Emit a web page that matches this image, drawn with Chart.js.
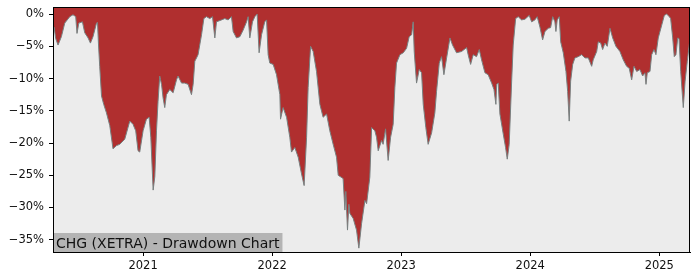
<!DOCTYPE html>
<html>
<head>
<meta charset="utf-8">
<script src="https://cdn.jsdelivr.net/npm/chart.js@4.4.1/dist/chart.umd.min.js"></script>
<style>
  body { margin: 0; background: #fff; }
  #wrap { width: 700px; height: 280px; }
</style>
</head>
<body>
<div id="wrap"><canvas id="ddChart" width="700" height="280"></canvas></div>
<script>
// dates as fractional years
const dateYears = [
  2020.302, 2020.310, 2020.323, 2020.341, 2020.367, 2020.393, 2020.432, 2020.457, 2020.478, 2020.488,
  2020.502, 2020.530, 2020.548, 2020.574, 2020.592, 2020.612, 2020.639, 2020.647, 2020.654, 2020.664,
  2020.678, 2020.695, 2020.716, 2020.742, 2020.767, 2020.794, 2020.819, 2020.858, 2020.897, 2020.922,
  2020.943, 2020.961, 2020.974, 2021.000, 2021.026, 2021.047, 2021.060, 2021.078, 2021.091, 2021.104,
  2021.116, 2021.129, 2021.143, 2021.155, 2021.168, 2021.181, 2021.207, 2021.233, 2021.259, 2021.271,
  2021.298, 2021.323, 2021.349, 2021.375, 2021.388, 2021.401, 2021.414, 2021.426, 2021.453, 2021.471,
  2021.491, 2021.517, 2021.538, 2021.556, 2021.569, 2021.608, 2021.633, 2021.659, 2021.685, 2021.698,
  2021.724, 2021.750, 2021.775, 2021.802, 2021.814, 2021.827, 2021.848, 2021.866, 2021.884, 2021.899,
  2021.918, 2021.943, 2021.957, 2021.969, 2021.982, 2022.008, 2022.034, 2022.060, 2022.065, 2022.085,
  2022.112, 2022.137, 2022.150, 2022.176, 2022.202, 2022.228, 2022.248, 2022.267, 2022.279, 2022.298,
  2022.318, 2022.344, 2022.370, 2022.395, 2022.422, 2022.447, 2022.473, 2022.499, 2022.512, 2022.550,
  2022.564, 2022.571, 2022.584, 2022.595, 2022.602, 2022.628, 2022.654, 2022.672, 2022.693, 2022.719,
  2022.732, 2022.757, 2022.771, 2022.796, 2022.809, 2022.822, 2022.848, 2022.860, 2022.879, 2022.899,
  2022.918, 2022.938, 2022.951, 2022.964, 2022.990, 2023.016, 2023.042, 2023.062, 2023.081, 2023.093,
  2023.101, 2023.119, 2023.140, 2023.158, 2023.171, 2023.191, 2023.209, 2023.236, 2023.261, 2023.274,
  2023.295, 2023.313, 2023.331, 2023.352, 2023.378, 2023.398, 2023.429, 2023.468, 2023.507, 2023.519,
  2023.538, 2023.558, 2023.584, 2023.605, 2023.623, 2023.649, 2023.674, 2023.701, 2023.719, 2023.734,
  2023.740, 2023.752, 2023.765, 2023.791, 2023.809, 2023.822, 2023.837, 2023.856, 2023.868, 2023.887,
  2023.907, 2023.933, 2023.959, 2023.992, 2024.011, 2024.036, 2024.054, 2024.075, 2024.096, 2024.114,
  2024.140, 2024.158, 2024.174, 2024.191, 2024.199, 2024.209, 2024.225, 2024.236, 2024.256, 2024.277,
  2024.290, 2024.302, 2024.313, 2024.329, 2024.346, 2024.372, 2024.398, 2024.424, 2024.450, 2024.476,
  2024.488, 2024.515, 2024.527, 2024.546, 2024.561, 2024.579, 2024.597, 2024.618, 2024.639, 2024.664,
  2024.695, 2024.721, 2024.747, 2024.767, 2024.786, 2024.804, 2024.825, 2024.850, 2024.871, 2024.889,
  2024.897, 2024.907, 2024.928, 2024.941, 2024.959, 2024.974, 2024.992, 2025.019, 2025.039, 2025.057,
  2025.078, 2025.088, 2025.104, 2025.116, 2025.129, 2025.143, 2025.153, 2025.166, 2025.186, 2025.200,
  2025.217, 2025.234, 2025.238
];

// drawdown in percent
const drawdown = [
  -1.9, -2.0, -3.8, -4.8, -3.5, -1.4, -0.4, -0.1, -0.4, -3.0,
  -1.4, -1.2, -2.9, -3.7, -4.5, -3.5, -1.4, -1.3, -4.5, -8.1,
  -12.7, -14.0, -15.3, -17.3, -20.9, -20.4, -20.2, -19.4, -16.6, -17.1,
  -18.1, -21.2, -21.4, -18.1, -16.3, -16.0, -19.1, -27.3, -25.2, -18.1,
  -13.5, -9.6, -10.9, -13.0, -14.5, -12.5, -11.7, -12.2, -10.2, -9.6,
  -10.7, -10.7, -10.9, -12.5, -10.9, -7.3, -6.8, -6.3, -3.2, -0.7,
  -0.4, -0.7, -0.4, -3.7, -1.2, -0.9, -0.7, -0.9, -0.4, -2.7,
  -3.7, -3.5, -2.5, -1.2, -0.4, -3.7, -1.2, -0.4, 0, -6.0,
  -3.2, -1.2, -0.9, -6.3, -7.6, -7.8, -9.4, -12.5, -16.3, -14.5,
  -16.0, -19.1, -21.4, -20.7, -22.2, -24.8, -26.6, -19.1, -11.4, -5.0,
  -5.8, -8.9, -14.0, -16.0, -15.5, -18.1, -20.2, -22.2, -25.0, -25.5,
  -30.4, -27.5, -33.5, -29.5, -30.9, -31.7, -33.5, -36.3, -32.5, -28.9,
  -29.4, -25.3, -17.6, -18.1, -19.1, -21.2, -19.6, -20.2, -17.8, -22.7,
  -19.1, -17.1, -11.4, -7.6, -6.3, -6.0, -5.3, -3.5, -3.2, -1.2,
  -5.8, -10.7, -8.6, -9.1, -14.0, -17.6, -20.2, -18.4, -15.3, -12.0,
  -7.6, -6.6, -9.4, -6.8, -3.7, -4.8, -6.0, -5.8, -5.2, -6.3,
  -7.8, -6.3, -6.6, -5.5, -7.1, -9.1, -9.4, -10.7, -11.7, -14.0,
  -10.9, -10.7, -15.5, -18.6, -20.7, -22.5, -20.2, -10.4, -4.8, -0.7,
  -0.4, -0.9, -0.8, -0.2, -1.2, -0.9, -0.4, -2.0, -4.0, -2.7,
  -2.2, -2.1, -0.4, -1.2, -2.7, -0.9, -0.4, -4.3, -6.0, -8.9,
  -12.0, -16.6, -10.4, -7.8, -6.8, -6.6, -6.3, -6.8, -6.8, -8.1,
  -7.1, -5.8, -4.3, -4.5, -5.5, -4.5, -5.0, -2.2, -3.7, -5.0,
  -5.8, -7.1, -8.1, -8.4, -10.2, -8.1, -8.9, -8.6, -9.6, -9.1,
  -10.9, -9.1, -8.9, -6.3, -5.5, -6.3, -3.7, -1.7, -0.2, 0,
  -0.4, -0.7, -3.7, -6.6, -6.3, -3.7, -3.8, -8.9, -14.5, -10.4,
  -7.3, -4.5, -4.0
];

const yearTicks = [2021, 2022, 2023, 2024, 2025];
const pctTicks = [0, -5, -10, -15, -20, -25, -30, -35];
const chartTitle = 'CHG (XETRA) - Drawdown Chart';

const points = dateYears.map((t, i) => ({ x: t, y: drawdown[i] }));

// fondo gris del area y marco negro
const frame = {
  id: 'frame',
  beforeDraw(chart) {
    const a = chart.chartArea, c = chart.ctx;
    c.save();
    c.fillStyle = '#ececec';
    c.fillRect(a.left, a.top, a.right - a.left, a.bottom - a.top);
    c.restore();
  },
  afterDraw(chart) {
    const a = chart.chartArea, c = chart.ctx;
    c.save();
    // label box at bottom left
    c.font = '14px "DejaVu Sans"';
    const w = c.measureText(chartTitle).width;
    c.fillStyle = '#b4b4b4';
    c.fillRect(a.left, a.bottom - 19, w + 6, 19);
    c.fillStyle = '#111';
    c.textBaseline = 'alphabetic';
    c.fillText(chartTitle, a.left + 3, a.bottom - 4);
    c.strokeStyle = '#000';
    c.lineWidth = 1;
    c.strokeRect(a.left + 0.5, a.top + 0.5, a.right - a.left - 1, a.bottom - a.top);
    c.restore();
  }
};

new Chart(document.getElementById('ddChart').getContext('2d'), {
  type: 'line',
  data: {
    datasets: [{
      data: points,
      borderColor: 'rgba(120,128,128,1)',
      borderWidth: 1,
      backgroundColor: '#b02f2f',
      fill: 'end',
      pointRadius: 0,
      tension: 0
    }]
  },
  options: {
    responsive: false,
    animation: false,
    layout: { padding: { top: 7, right: 10, left: 0, bottom: 0 } },
    plugins: { legend: { display: false }, tooltip: { enabled: false } },
    scales: {
      x: {
        type: 'linear',
        min: 2020.302,
        max: 2025.238,
        afterBuildTicks: s => { s.ticks = yearTicks.map(v => ({ value: v })); },
        afterFit: s => { s.height = 28; s.paddingLeft = 0; s.paddingRight = 0; },
        grid: { drawOnChartArea: false, drawTicks: true, tickLength: 4, color: '#000' },
        border: { display: true, color: '#000' },
        ticks: {
          color: '#111',
          font: { family: 'DejaVu Sans', size: 11.5 },
          padding: 3,
          maxRotation: 0,
          callback: v => String(v)
        }
      },
      y: {
        min: -36.9,
        max: 1.1,
        afterBuildTicks: s => { s.ticks = pctTicks.map(v => ({ value: v })); },
        afterFit: s => { s.width = 53; s.paddingTop = 0; s.paddingBottom = 0; },
        grid: { drawOnChartArea: false, drawTicks: true, tickLength: 4, color: '#000' },
        border: { display: true, color: '#000' },
        ticks: {
          color: '#111',
          font: { family: 'DejaVu Sans', size: 11.5 },
          padding: 5,
          callback: v => (v === 0 ? '0%' : '\u2212' + Math.abs(v) + '%')
        }
      }
    }
  },
  plugins: [frame]
});
</script>
</body>
</html>
